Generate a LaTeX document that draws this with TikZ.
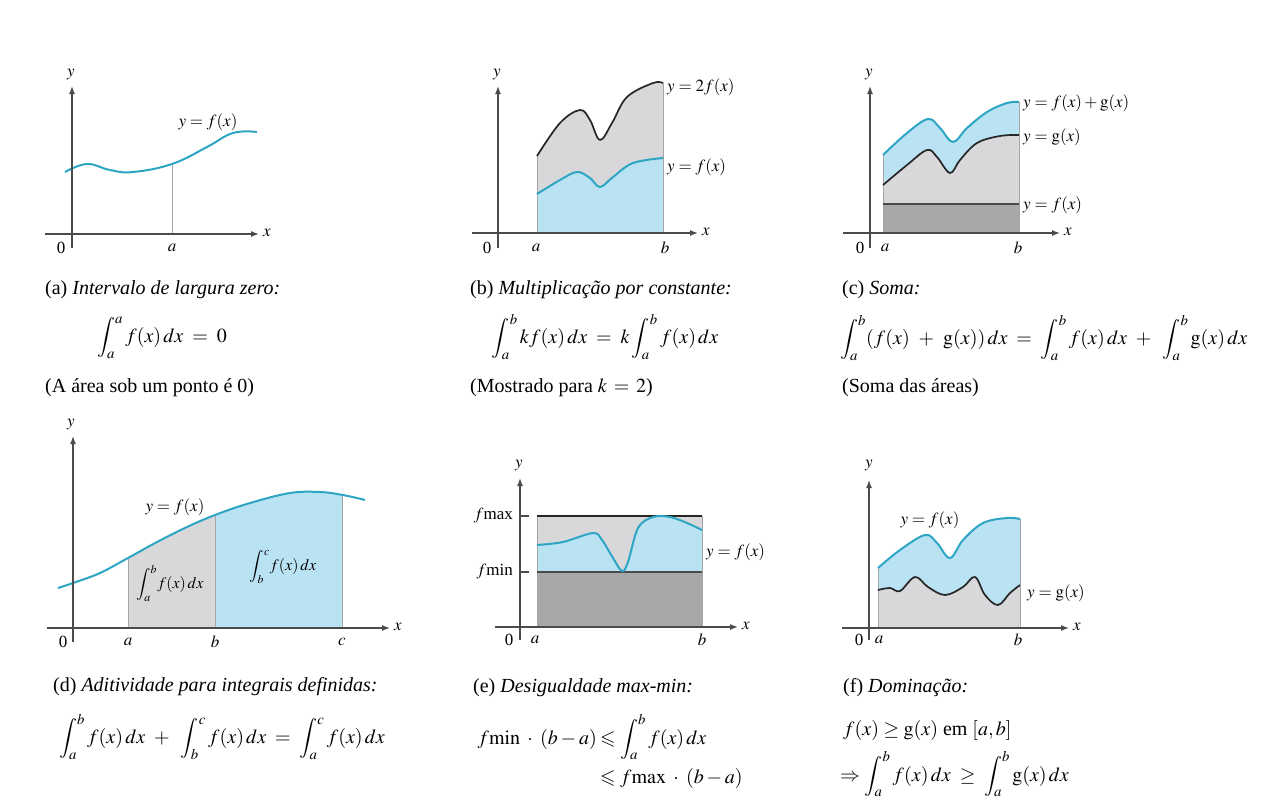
\documentclass[tikz,border=0pt]{standalone}
\usepackage{amsmath,amssymb}
\usepackage{mathptmx}
\usepackage{fontspec}
\setmainfont{Liberation Serif}
\usetikzlibrary{arrows.meta}
\definecolor{curveblue}{RGB}{45,165,195}
\definecolor{fillblue}{RGB}{185,226,242}
\definecolor{fillgray}{RGB}{216,216,219}
\definecolor{fillgraydark}{RGB}{168,168,171}
\definecolor{axisgray}{RGB}{75,75,75}
\tikzset{
 axisline/.style={axisgray, line width=1.4pt},
 axisarrow/.style={axisline, -{Latex[length=8pt,width=6pt]}},
 bluecurve/.style={curveblue, line width=2pt, line join=round},
 blackcurve/.style={black!85, line width=1.7pt, line join=round},
 lbl/.style={font=\fontsize{17}{19}\selectfont, inner sep=1pt},
 captext/.style={font=\fontsize{20}{23}\selectfont, anchor=west, inner sep=0pt},
 capcenter/.style={font=\fontsize{20}{23}\selectfont, inner sep=0pt},
 inlbl/.style={font=\fontsize{16}{18}\selectfont, inner sep=0pt},
 edgeline/.style={gray!70, line width=0.6pt},
}
\newcommand{\wsp}{\mskip 8mu}
\begin{document}
\begin{tikzpicture}[x=1pt,y=-1pt]
\useasboundingbox (0,0) rectangle (1261,801);
\fill[white] (0,0) rectangle (1261,801);

% ---------------- (a)
\draw[edgeline] (172,234) -- (172,165);
\draw[bluecurve] plot[smooth,tension=0.7] coordinates {(65,172) (87,164) (110,170) (133,172) (172,164) (207,147) (233,133) (257,132)};
\draw[axisarrow] (72,248) -- (72,86);
\draw[axisarrow] (45,234) -- (259,234);
\node[lbl] (ay) at (71,75) {$y$};
\node[lbl] (ax) at (267,233) {$x$};
\node[lbl] (a0) at (61,248) {0};
\node[lbl] (aa) at (172,248) {$a$};
\node[lbl] (af) at (208,122) {$y = f(x)$};
\node[captext] (acap) at (45,290) {(a) \textit{Intervalo de largura zero:}};
\node[capcenter] (aform) at (162,338) {$\displaystyle\int_a^a f(x)\,dx \;=\; 0$};
\node[captext] (anote) at (45,388) {(A área sob um ponto é 0)};

% ---------------- (b)
\fill[fillgray] (537,233) -- plot[smooth,tension=0.6] coordinates {(537,156) (560,123) (580,110) (590,120) (600,140) (612,123) (627,97) (653,83) (663,83)} -- (663,233) -- cycle;
\fill[fillblue] (537,233) -- plot[smooth,tension=0.6] coordinates {(537,194) (560,180) (577,172) (590,178) (600,187) (613,177) (633,163) (663,158)} -- (663,233) -- cycle;
\draw[edgeline] (537,233) -- (537,156);
\draw[edgeline] (663,233) -- (663,83);
\draw[blackcurve] plot[smooth,tension=0.6] coordinates {(537,156) (560,123) (580,110) (590,120) (600,140) (612,123) (627,97) (653,83) (663,83)};
\draw[bluecurve] plot[smooth,tension=0.6] coordinates {(537,194) (560,180) (577,172) (590,178) (600,187) (613,177) (633,163) (663,158)};
\draw[axisarrow] (498,248) -- (498,86);
\draw[axisarrow] (472,233) -- (698,233);
\node[lbl] (by) at (497,75) {$y$};
\node[lbl] (bx) at (706,232) {$x$};
\node[lbl] (b0) at (487,248) {0};
\node[lbl] (ba) at (536,248) {$a$};
\node[lbl] (bb) at (665,248) {$b$};
\node[lbl,anchor=west] (b2f) at (666,87) {$y = 2f(x)$};
\node[lbl,anchor=west] (bf) at (666,167) {$y = f(x)$};
\node[captext] (bcap) at (470,290) {(b) \textit{Multiplicação por constante:}};
\node[capcenter] (bform) at (605,337) {$\displaystyle\int_a^b kf(x)\,dx \;=\; k\int_a^b f(x)\,dx$};
\node[captext] (bnote) at (470,388) {(Mostrado para $k \,=\, 2$)};

% ---------------- (c)
\fill[fillblue] (883,233) -- plot[smooth,tension=0.6] coordinates {(883,155) (907,133) (928,119) (940,128) (953,142) (967,128) (987,112) (1007,103) (1019,102)} -- (1019,233) -- cycle;
\fill[fillgray] (883,233) -- plot[smooth,tension=0.6] coordinates {(883,185) (907,165) (927,150) (937,157) (950,173) (960,160) (977,143) (1000,136) (1019,135)} -- (1019,233) -- cycle;
\fill[fillgraydark] (883,204) rectangle (1019,233);
\draw[edgeline] (883,233) -- (883,155);
\draw[edgeline] (1019,233) -- (1019,102);
\draw[axisgray, line width=1.3pt] (883,204) -- (1019,204);
\draw[blackcurve] plot[smooth,tension=0.6] coordinates {(883,185) (907,165) (927,150) (937,157) (950,173) (960,160) (977,143) (1000,136) (1019,135)};
\draw[bluecurve] plot[smooth,tension=0.6] coordinates {(883,155) (907,133) (928,119) (940,128) (953,142) (967,128) (987,112) (1007,103) (1019,102)};
\draw[axisarrow] (870,248) -- (870,86);
\draw[axisarrow] (843,233) -- (1060,233);
\node[lbl] (cy) at (869,75) {$y$};
\node[lbl] (cx) at (1068,232) {$x$};
\node[lbl] (c0) at (860,248) {0};
\node[lbl] (ca) at (885,248) {$a$};
\node[lbl] (cb) at (1018,248) {$b$};
\node[lbl,anchor=west] (cfg) at (1022,103) {$y = f(x) + \mathrm{g}(x)$};
\node[lbl,anchor=west] (cg) at (1022,137) {$y = \mathrm{g}(x)$};
\node[lbl,anchor=west] (cf) at (1022,205) {$y = f(x)$};
\node[captext] (ccap) at (842,290) {(c) \textit{Soma:}};
\node[captext] (cform) at (840,338) {$\displaystyle\int_a^b (f(x) \wsp{+}\wsp \mathrm{g}(x))\,dx \;=\; \int_a^b f(x)\,dx \wsp{+}\wsp \int_a^b \mathrm{g}(x)\,dx$};
\node[captext] (cnote) at (842,388) {(Soma das áreas)};

% ---------------- (d)
\begin{scope}
\clip (58,628) -- plot[smooth,tension=0.6] coordinates {(58,588) (73,583) (100,573) (128,558) (157,542) (187,527) (215,515) (250,503) (290,493) (320,492) (343,495) (365,500)} -- (365,628) -- cycle;
\fill[fillgray] (128,400) rectangle (215,628);
\fill[fillblue] (215,400) rectangle (342,628);
\draw[edgeline] (128,628) -- (128,400);
\draw[edgeline] (215,628) -- (215,400);
\draw[edgeline] (342,628) -- (342,400);
\end{scope}
\draw[bluecurve] plot[smooth,tension=0.6] coordinates {(58,588) (73,583) (100,573) (128,558) (157,542) (187,527) (215,515) (250,503) (290,493) (320,492) (343,495) (365,500)};
\draw[axisarrow] (73,642) -- (73,436);
\draw[axisarrow] (47,628) -- (390,628);
\node[lbl] (dy) at (71,425) {$y$};
\node[lbl] (dx) at (398,627) {$x$};
\node[lbl] (d0) at (63,642) {0};
\node[lbl] (da) at (128,642) {$a$};
\node[lbl] (db) at (215,642) {$b$};
\node[lbl] (dc) at (342,642) {$c$};
\node[lbl] (df) at (175,507) {$y = f(x)$};
\node[inlbl] (dint1) at (170,583) {$\displaystyle\int_a^b\! f(x)\,dx$};
\node[inlbl] (dint2) at (283,567) {$\displaystyle\int_b^c\! f(x)\,dx$};
\node[captext] (dcap) at (53,687) {(d) \textit{Aditividade para integrais definidas:}};
\node[capcenter] (dform) at (222,737) {$\displaystyle\int_a^b f(x)\,dx \wsp{+}\wsp \int_b^c f(x)\,dx \;=\; \int_a^c f(x)\,dx$};

% ---------------- (e)
\fill[fillgraydark] (537,572) rectangle (702,627);
\fill[fillgray] (537,516) rectangle (702,572);
\fill[fillblue] (537,572) -- plot[smooth,tension=0.55] coordinates {(537,545) (563,542) (593,533) (602,540) (613,558) (622,571) (628,562) (638,528) (653,517) (670,517) (687,523) (702,530)} -- (702,572) -- cycle;
\draw[edgeline] (537,627) -- (537,516);
\draw[edgeline] (702,627) -- (702,516);
\draw[blackcurve, line width=1.4pt] (537,516) -- (702,516);
\draw[axisgray, line width=1.2pt] (537,572) -- (702,572);
\draw[bluecurve] plot[smooth,tension=0.55] coordinates {(537,545) (563,542) (593,533) (602,540) (613,558) (622,571) (628,562) (638,528) (653,517) (670,517) (687,523) (702,530)};
\draw[axisline] (520,516) -- (529,516);
\draw[axisline] (520,572) -- (529,572);
\draw[axisarrow] (520,640) -- (520,478);
\draw[axisarrow] (495,627) -- (738,627);
\node[lbl] (ey) at (519,466) {$y$};
\node[lbl] (ex) at (746,626) {$x$};
\node[lbl] (e0) at (509,640) {0};
\node[lbl] (ea) at (535,640) {$a$};
\node[lbl] (eb) at (702,640) {$b$};
\node[lbl,anchor=east] (emax) at (514,516) {$f$max};
\node[lbl,anchor=east] (emin) at (514,572) {$f$min};
\node[lbl,anchor=west] (ef) at (705,552) {$y = f(x)$};
\node[captext] (ecap) at (473,688) {(e) \textit{Desigualdade max-min:}};
\node[captext,anchor=base east] (eform1) at (597,744) {$f\mathrm{min}\;\cdot\;(b - a)$};
\node[captext,anchor=base west] (eform2) at (600,744) {$\leqslant \displaystyle\int_a^b f(x)\,dx$};
\node[captext,anchor=base west] (eform3) at (600,783) {$\leqslant f\mathrm{max}\;\cdot\;(b - a)$};

% ---------------- (f)
\fill[fillblue] (878,628) -- plot[smooth,tension=0.6] coordinates {(878,568) (900,550) (925,535) (937,543) (950,558) (963,540) (983,523) (1007,518) (1020,519)} -- (1020,628) -- cycle;
\fill[fillgray] (878,628) -- plot[smooth,tension=0.6] coordinates {(878,590) (890,588) (900,591) (915,577) (928,587) (945,595) (963,587) (975,577) (985,595) (998,605) (1010,593) (1020,585)} -- (1020,628) -- cycle;
\draw[edgeline] (878,628) -- (878,568);
\draw[edgeline] (1020,628) -- (1020,519);
\draw[blackcurve] plot[smooth,tension=0.6] coordinates {(878,590) (890,588) (900,591) (915,577) (928,587) (945,595) (963,587) (975,577) (985,595) (998,605) (1010,593) (1020,585)};
\draw[bluecurve] plot[smooth,tension=0.6] coordinates {(878,568) (900,550) (925,535) (937,543) (950,558) (963,540) (983,523) (1007,518) (1020,519)};
\draw[axisarrow] (869,640) -- (869,480);
\draw[axisarrow] (842,628) -- (1069,628);
\node[lbl] (fy) at (869,466) {$y$};
\node[lbl] (fx) at (1077,627) {$x$};
\node[lbl] (f0) at (859,640) {0};
\node[lbl] (fa) at (879,640) {$a$};
\node[lbl] (fb) at (1018,640) {$b$};
\node[lbl] (ff) at (930,520) {$y = f(x)$};
\node[lbl,anchor=west] (fg) at (1026,593) {$y = \mathrm{g}(x)$};
\node[captext] (fcap) at (843,688) {(f) \textit{Dominação:}};
\node[captext] (fform1) at (843,730) {$f(x) \geq \mathrm{g}(x)$ em $[a, b]$};
\node[captext,anchor=base west] (fform2) at (840,781) {$\Rightarrow \displaystyle\int_a^b f(x)\,dx \;\geq\; \int_a^b \mathrm{g}(x)\,dx$};
\end{tikzpicture}
\end{document}
